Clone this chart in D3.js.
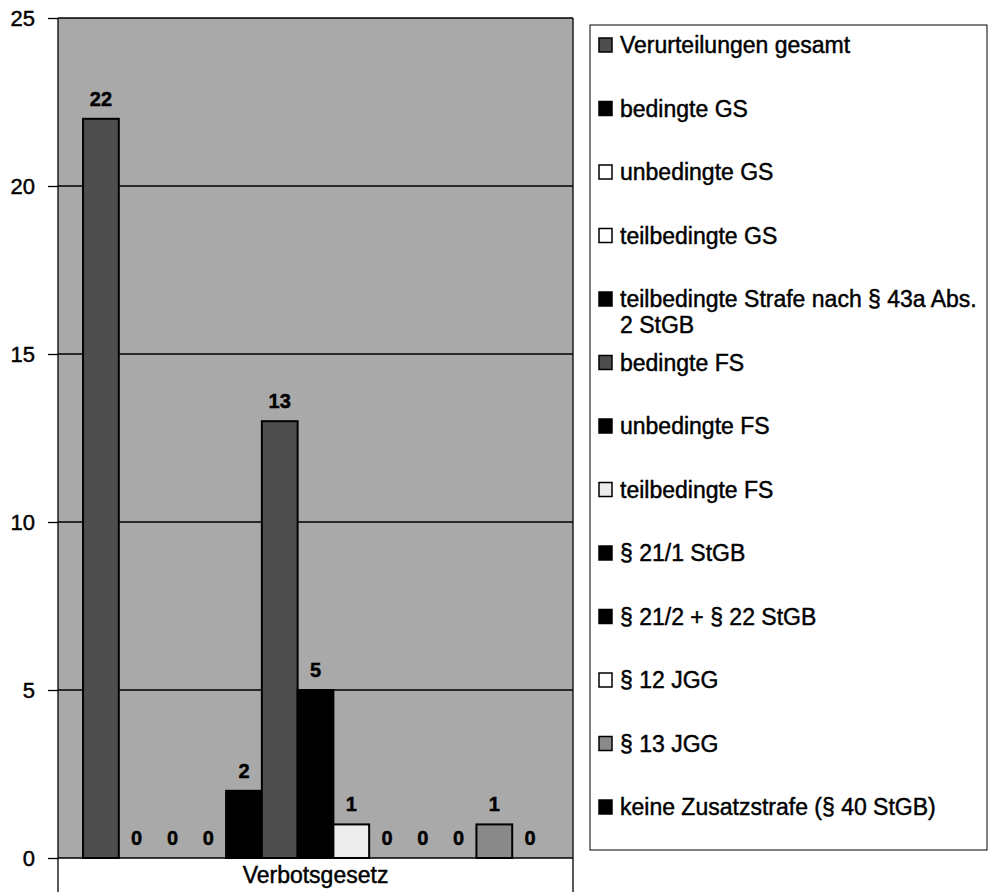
<!DOCTYPE html>
<html><head><meta charset="utf-8">
<script src="https://cdn.jsdelivr.net/npm/d3@7"></script>
<style>
html,body{margin:0;padding:0;background:#fff;}
text{font-family:"Liberation Sans",Arial,sans-serif;fill:#000;stroke:#000;stroke-width:0.45px;}
</style></head>
<body>
<svg id="chart" width="988" height="892"></svg>
<script>
const categories = ["Verbotsgesetz"];
const seriesNames = [
  "Verurteilungen gesamt",
  "bedingte GS",
  "unbedingte GS",
  "teilbedingte GS",
  "teilbedingte Strafe nach § 43a Abs. 2 StGB",
  "bedingte FS",
  "unbedingte FS",
  "teilbedingte FS",
  "§ 21/1 StGB",
  "§ 21/2 + § 22 StGB",
  "§ 12 JGG",
  "§ 13 JGG",
  "keine Zusatzstrafe (§ 40 StGB)"
];
const values = [22, 0, 0, 0, 2, 13, 5, 1, 0, 0, 0, 1, 0];
const legendLines = [
  ["Verurteilungen gesamt"],
  ["bedingte GS"],
  ["unbedingte GS"],
  ["teilbedingte GS"],
  ["teilbedingte Strafe nach § 43a Abs.", "2 StGB"],
  ["bedingte FS"],
  ["unbedingte FS"],
  ["teilbedingte FS"],
  ["§ 21/1 StGB"],
  ["§ 21/2 + § 22 StGB"],
  ["§ 12 JGG"],
  ["§ 13 JGG"],
  ["keine Zusatzstrafe (§ 40 StGB)"]
];
const yTicks = [0, 5, 10, 15, 20, 25];
const colors = ["#4e4e4e","#000000","#ffffff","#ffffff","#000000","#4e4e4e","#000000","#ececec","#000000","#000000","#ffffff","#8a8a8a","#000000"];

const svg = d3.select("#chart");
const L = 58, R = 573, T = 18, B = 858;

const y = d3.scaleLinear().domain([0, 25]).range([B, T]);
const x0 = d3.scaleBand().domain(categories).range([L, R]).padding(0);
const x1 = d3.scaleBand().domain(seriesNames).range([0, x0.bandwidth()]).paddingInner(0).paddingOuter(0.7);

// plot background
svg.append("rect").attr("x",L).attr("y",T).attr("width",R-L).attr("height",B-T).attr("fill","#a9a9a9");

// gridlines
svg.append("g").selectAll("line").data(yTicks.filter(d=>d>0)).join("line")
  .attr("x1",L).attr("x2",R).attr("y1",d=>y(d)).attr("y2",d=>y(d))
  .attr("stroke","#000").attr("stroke-width",1.3);

// bars
const g = svg.append("g");
categories.forEach(cat => {
  const rows = seriesNames.map((s,i)=>({s,i,v:values[i]}));
  g.selectAll("rect.bar").data(rows).join("rect")
    .attr("class","bar")
    .attr("x",d=>x0(cat)+x1(d.s))
    .attr("y",d=>y(d.v))
    .attr("width",x1.bandwidth())
    .attr("height",d=>y(0)-y(d.v))
    .attr("fill",d=>colors[d.i])
    .attr("stroke","#000").attr("stroke-width",d=>d.v>0?2:0);
  g.selectAll("text.lbl").data(rows).join("text")
    .attr("class","lbl")
    .attr("x",d=>x0(cat)+x1(d.s)+x1.bandwidth()/2)
    .attr("y",d=>y(d.v)-13)
    .attr("text-anchor","middle")
    .attr("font-size",20).attr("font-weight","bold")
    .text(d=>d.v);
});

// y axis
const yAxis = d3.axisLeft(y).tickValues(yTicks).tickSize(10).tickPadding(13).tickFormat(d3.format("d"));
const ya = svg.append("g").attr("transform",`translate(${L},0)`).call(yAxis);
ya.select(".domain").remove();
ya.selectAll("line").attr("stroke","#000").attr("stroke-width",1.3);
ya.selectAll("text").attr("font-size",22).attr("font-family","'Liberation Sans',Arial,sans-serif").attr("fill","#000").attr("dy","0.36em");

// axis lines and category separators
svg.append("line").attr("x1",L).attr("x2",L).attr("y1",T).attr("y2",892).attr("stroke","#000").attr("stroke-width",1.3);
svg.append("line").attr("x1",R).attr("x2",R).attr("y1",T).attr("y2",892).attr("stroke","#000").attr("stroke-width",1.3);
svg.append("line").attr("x1",L).attr("x2",R).attr("y1",B).attr("y2",B).attr("stroke","#000").attr("stroke-width",1.5);

// x axis category label
const xAxis = d3.axisBottom(x0).tickSize(0).tickPadding(0);
const xa = svg.append("g").attr("transform",`translate(0,${B})`).call(xAxis);
xa.select(".domain").remove();
xa.selectAll("text").attr("font-size",23).attr("font-family","'Liberation Sans',Arial,sans-serif").attr("fill","#000").attr("dy",0).attr("y",25);

// legend
const LX = 590, LY = 25, LW = 397, LH = 825;
svg.append("rect").attr("x",LX).attr("y",LY).attr("width",LW).attr("height",LH)
  .attr("fill","#fff").attr("stroke","#000").attr("stroke-width",1);
const step = 63.5;
const lg = svg.append("g").selectAll("g").data(seriesNames.map((s,i)=>({s,i}))).join("g")
  .attr("transform",d=>`translate(${LX+8},${45+d.i*step})`);
lg.append("rect").attr("x",1).attr("y",-7).attr("width",13).attr("height",14)
  .attr("fill",d=>colors[d.i]).attr("stroke","#000").attr("stroke-width",1.5);
lg.each(function(d){
  const t = d3.select(this).append("text").attr("x",22).attr("y",8).attr("font-size",23);
  legendLines[d.i].forEach((ln,k)=>{
    t.append("tspan").attr("x",22).attr("dy",k===0?0:26).text(ln);
  });
});
</script>
</body></html>
